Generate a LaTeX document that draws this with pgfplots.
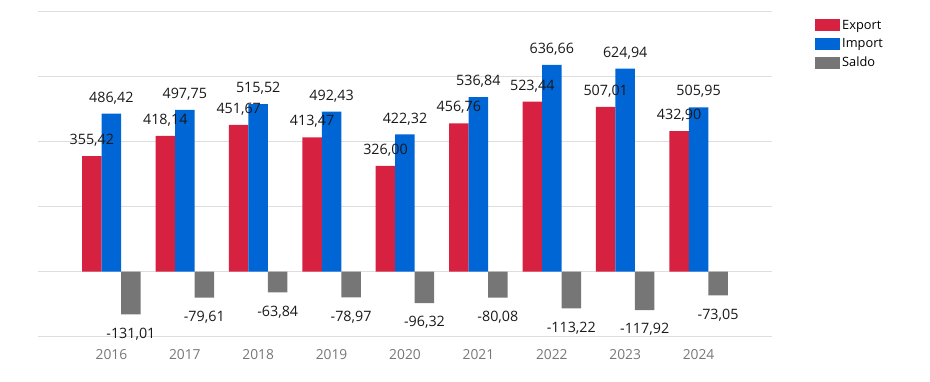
\documentclass[border=0pt]{standalone}
\usepackage{fontspec}
\setmainfont{Open Sans}
\usepackage{pgfplots}
\pgfplotsset{compat=1.18}
\definecolor{cexp}{HTML}{D62240}
\definecolor{cimp}{HTML}{0066D6}
\definecolor{csal}{HTML}{767676}
\definecolor{cgrid}{HTML}{DEDEDE}
\definecolor{ctick}{HTML}{777777}
\begin{document}
\begin{tikzpicture}[x=1pt,y=1pt]
\useasboundingbox (0,0) rectangle (930,381);
\begin{axis}[
  at={(38pt,44.3pt)}, anchor=south west,
  scale only axis, width=734pt, height=325pt,
  xmin=-1, xmax=9, ymin=-200, ymax=800,
  ybar, bar width=19.5pt,
  xtick={0,1,2,3,4,5,6,7,8},
  xticklabels={2016,2017,2018,2019,2020,2021,2022,2023,2024},
  ytick={-200,0,200,400,600,800}, yticklabels={},
  ymajorgrids, grid style={cgrid, line width=0.8pt},
  axis line style={draw=none}, tick style={draw=none},
  xticklabel style={font=\fontsize{13.8}{16}\selectfont, text=ctick, yshift=-4.5pt},
  legend style={at={(1,1)}, anchor=north west, xshift=43pt, yshift=-6pt,
    draw=none, fill=none, font=\fontsize{12.8}{15}\selectfont,
    row sep=4pt, inner sep=0pt,
    /tikz/every even column/.append style={column sep=3pt}},
  legend cell align=left,
  legend image code/.code={\fill[#1] (0pt,-6pt) rectangle (25pt,6pt);},
  /pgf/number format/fixed, /pgf/number format/fixed zerofill,
  /pgf/number format/precision=2, /pgf/number format/use comma,
  /pgf/number format/1000 sep={}, /pgf/number format/assume math mode=true,
]
\addplot[bar shift=-19.5pt, fill=cexp, draw=none] coordinates {
 (0,355.42) (1,418.14) (2,451.67) (3,413.47) (4,326.00) (5,456.76) (6,523.44) (7,507.01) (8,432.90)};
\addlegendentry{Export}
\addplot[bar shift=0pt, fill=cimp, draw=none] coordinates {
 (0,486.42) (1,497.75) (2,515.52) (3,492.43) (4,422.32) (5,536.84) (6,636.66) (7,624.94) (8,505.95)};
\addlegendentry{Import}
\addplot[bar shift=19.5pt, fill=csal, draw=none] coordinates {
 (0,-131.01) (1,-79.61) (2,-63.84) (3,-78.97) (4,-96.32) (5,-80.08) (6,-113.22) (7,-117.92) (8,-73.05)};
\addlegendentry{Saldo}
% labels
\addplot[forget plot, bar shift=-19.5pt, fill=none, draw=none, nodes near coords,
  every node near coord/.append style={font=\fontsize{14.3}{16}\selectfont, text=black!90, yshift=6pt}] coordinates {
 (0,355.42) (1,418.14) (2,451.67) (3,413.47) (4,326.00) (5,456.76) (6,523.44) (7,507.01) (8,432.90)};
\addplot[forget plot, bar shift=0pt, fill=none, draw=none, nodes near coords,
  every node near coord/.append style={font=\fontsize{14.3}{16}\selectfont, text=black!90, yshift=6pt}] coordinates {
 (0,486.42) (1,497.75) (2,515.52) (3,492.43) (4,422.32) (5,536.84) (6,636.66) (7,624.94) (8,505.95)};
\addplot[forget plot, bar shift=19.5pt, fill=none, draw=none, nodes near coords,
  every node near coord/.append style={font=\fontsize{14.3}{16}\selectfont, text=black!90, yshift=-10pt}] coordinates {
 (0,-131.01) (1,-79.61) (2,-63.84) (3,-78.97) (4,-96.32) (5,-80.08) (6,-113.22) (7,-117.92) (8,-73.05)};
\end{axis}
\end{tikzpicture}
\end{document}
